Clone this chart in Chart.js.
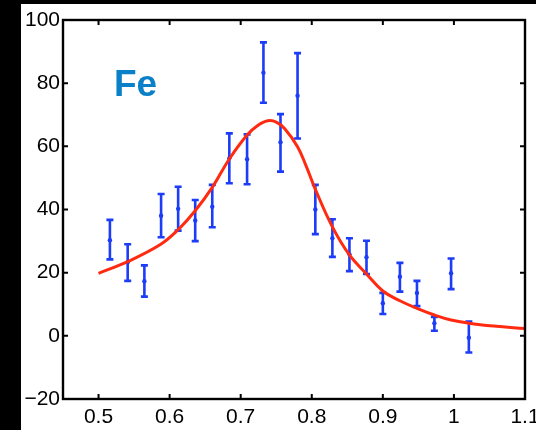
<!DOCTYPE html>
<html>
<head>
<meta charset="utf-8">
<script src="https://cdn.jsdelivr.net/npm/chart.js@4/dist/chart.umd.min.js"></script>
<style>
  html, body { margin: 0; padding: 0; background: #000; overflow: hidden; width: 536px; height: 430px; }
  #wrap { position: absolute; left: 21px; top: 4px; width: 540px; height: 426px; background: #fff; }
  canvas { display: block; }
</style>
</head>
<body>
<div id="wrap"><canvas id="c" width="540" height="426"></canvas></div>
<script>
// Measured points with error bars
const xData   = [0.516, 0.541, 0.5645, 0.588, 0.612, 0.636, 0.660, 0.684, 0.709, 0.732, 0.756, 0.780,
                 0.805, 0.829, 0.853, 0.877, 0.900, 0.924, 0.948, 0.9725, 0.996, 1.021];
const yData   = [30.3, 23.3, 17.3, 38.0, 40.2, 36.5, 40.9, 56.2, 55.9, 83.3, 61.3, 76.0,
                 40.0, 30.9, 25.8, 24.9, 10.3, 18.7, 13.6, 4.0, 19.8, -0.6];
const yHigh   = [36.7, 29.0, 22.3, 44.9, 47.2, 43.0, 47.8, 64.1, 63.8, 92.9, 70.2, 89.5,
                 47.8, 36.9, 30.9, 30.1, 13.6, 23.1, 17.4, 6.0, 24.5, 4.5];
const yLow    = [24.2, 17.4, 12.4, 31.2, 33.3, 30.0, 34.4, 48.3, 48.0, 73.8, 52.0, 62.5,
                 32.2, 25.0, 20.5, 19.6, 6.9, 14.0, 9.4, 1.6, 14.8, -5.3];

// Fitted resonance curve
const fitX = [0.500, 0.541, 0.587, 0.612, 0.636, 0.660, 0.684, 0.709, 0.724, 0.738, 0.750, 0.762,
              0.780, 0.792, 0.805, 0.829, 0.853, 0.877, 0.900, 0.924, 0.948, 0.9725, 0.996,
              1.021, 1.056, 1.100];
const fitY = [19.8, 23.5, 28.9, 33.6, 39.6, 47.0, 56.0, 63.6, 66.6, 68.1, 67.7, 65.6,
              59.9, 53.8, 46.4, 34.5, 25.6, 19.6, 14.2, 11.1, 8.7, 6.6, 5.0,
              4.0, 3.1, 2.3];

const xTicks = [0.5, 0.6, 0.7, 0.8, 0.9, 1, 1.1];
const yTicks = [-20, 0, 20, 40, 60, 80, 100];
const label = 'Fe';

const points = xData.map((x, i) => ({ x: x, y: yData[i] }));
const fit = fitX.map((x, i) => ({ x: x, y: fitY[i] }));

const BLUE = '#1c3cf8';
const RED = '#ff2a10';

// Vertical error bars with caps, drawn under the fit curve
const errorBars = {
  id: 'errorBars',
  beforeDatasetsDraw(chart) {
    const { ctx, scales: { x, y } } = chart;
    ctx.save();
    ctx.strokeStyle = BLUE;
    ctx.fillStyle = BLUE;
    ctx.lineWidth = 2.6;
    ctx.lineCap = 'butt';
    xData.forEach((xv, i) => {
      const px = x.getPixelForValue(xv);
      const top = y.getPixelForValue(yHigh[i]);
      const bot = y.getPixelForValue(yLow[i]);
      ctx.beginPath();
      ctx.moveTo(px, top); ctx.lineTo(px, bot);
      ctx.moveTo(px - 3.5, top); ctx.lineTo(px + 3.5, top);
      ctx.moveTo(px - 3.5, bot); ctx.lineTo(px + 3.5, bot);
      ctx.stroke();
    });
    ctx.restore();
  }
};

// Box frame with inward tick marks on all four sides, plus the element label
const frame = {
  id: 'frame',
  afterDraw(chart) {
    const { ctx, chartArea: a, scales: { x, y } } = chart;
    ctx.save();
    ctx.strokeStyle = '#000';
    ctx.lineWidth = 2.4;
    ctx.strokeRect(a.left, a.top, a.right - a.left, a.bottom - a.top);
    ctx.lineWidth = 2;
    const len = 5;
    ctx.beginPath();
    xTicks.forEach(v => {
      const px = x.getPixelForValue(v);
      ctx.moveTo(px, a.bottom); ctx.lineTo(px, a.bottom - len);
      ctx.moveTo(px, a.top); ctx.lineTo(px, a.top + len);
    });
    yTicks.forEach(v => {
      const py = y.getPixelForValue(v);
      ctx.moveTo(a.left, py); ctx.lineTo(a.left + len, py);
      ctx.moveTo(a.right, py); ctx.lineTo(a.right - len, py);
    });
    ctx.stroke();
    ctx.fillStyle = '#0a80c8';
    ctx.font = 'bold 37px "Liberation Sans", Arial, sans-serif';
    ctx.textBaseline = 'alphabetic';
    ctx.fillText(label, a.left + 51, a.top + 76);
    ctx.restore();
  }
};

new Chart(document.getElementById('c'), {
  type: 'scatter',
  data: {
    datasets: [
      {
        data: fit,
        showLine: true,
        borderColor: RED,
        borderWidth: 3,
        pointRadius: 0,
        tension: 0.4,
        order: 0
      },
      {
        data: points,
        showLine: false,
        pointStyle: 'circle',
        pointRadius: 2.2,
        backgroundColor: BLUE,
        borderColor: BLUE,
        borderWidth: 0,
        order: 1
      }
    ]
  },
  options: {
    responsive: false,
    animation: false,
    events: [],
    layout: { padding: { left: 0, top: 16, right: 36, bottom: 0 } },
    plugins: { legend: { display: false }, tooltip: { enabled: false } },
    scales: {
      x: {
        type: 'linear',
        min: 0.45, max: 1.1,
        grid: { display: false, drawTicks: false },
        border: { display: false },
        afterBuildTicks: s => { s.ticks = xTicks.map(v => ({ value: v })); },
        afterFit: s => { s.height = 31; },
        ticks: {
          color: '#000',
          padding: 6,
          maxRotation: 0,
          autoSkip: false,
          font: { family: '"Liberation Sans", Arial, sans-serif', size: 21 },
          callback: v => String(v)
        }
      },
      y: {
        type: 'linear',
        min: -20, max: 100,
        grid: { display: false, drawTicks: false },
        border: { display: false },
        afterBuildTicks: s => { s.ticks = yTicks.map(v => ({ value: v })); },
        afterFit: s => { s.width = 42; },
        ticks: {
          color: '#000',
          padding: 3,
          autoSkip: false,
          font: { family: '"Liberation Sans", Arial, sans-serif', size: 21 },
          callback: v => (v < 0 ? '\u2212' + Math.abs(v) : String(v))
        }
      }
    }
  },
  plugins: [errorBars, frame]
});
</script>
</body>
</html>
